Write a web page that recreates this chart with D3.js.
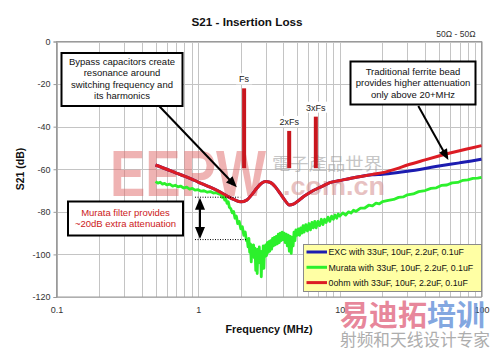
<!DOCTYPE html>
<html><head><meta charset="utf-8">
<script src="https://cdn.jsdelivr.net/npm/d3@7/dist/d3.min.js"></script>
<style>
body{margin:0;background:#fff;}
svg{display:block;font-family:"Liberation Sans",Arial,sans-serif;}
</style></head>
<body><svg id="c" width="494" height="350"></svg>
<script>
// ---------- data ----------
const xTickValues = [0.1, 1, 10, 100];
const xTickLabels = ["0.1", "1", "10", "100"];
const yTickValues = [0, -20, -40, -60, -80, -100, -120];
const yTickLabels = ["0", "-20", "-40", "-60", "-80", "-100", "-120"];

const seriesNames = ["EXC with 33uF, 10uF, 2.2uF, 0.1uF", "Murata with 33uF, 10uF, 2.2uF, 0.1uF", "0ohm with 33uF, 10uF, 2.2uF, 0.1uF"];

const redFreq = [0.5,0.6,0.7,0.8,0.9,1.0,1.2,1.4,1.6,1.8,2.0,2.2,2.4,2.6,2.8,3.0,3.2,3.5,3.8,4.1,4.4,4.7,5.0,5.5,6.0,6.5,7.5,8.5,10,12,14,17,20,25,30,40,50,60,70,85,100];
const redDb   = [-58,-60,-61.8,-63.2,-64.6,-66,-68.3,-70.4,-72.6,-74.3,-75.3,-74.5,-71.8,-68.8,-66.6,-65.8,-66.1,-68.2,-71.5,-74.6,-76.8,-76.4,-75.2,-73,-71.4,-70,-68,-66.3,-65.3,-64.2,-63.4,-62.4,-61.6,-59.8,-58.0,-55.6,-53.8,-52.4,-51.3,-50,-48.9];
const blueDb  = [-58,-60,-61.8,-63.2,-64.6,-66,-68.3,-70.4,-72.6,-74.3,-75.3,-74.5,-71.8,-68.8,-66.6,-65.8,-66.1,-68.2,-71.5,-74.6,-76.8,-76.4,-75.2,-73,-71.4,-70,-68,-66.3,-65.3,-64.2,-63.4,-62.6,-62.3,-61.6,-60.9,-59.6,-58.5,-57.7,-57.0,-56.1,-55.3];

const greenFreq = [0.5,0.52,0.54,0.56,0.58,0.6,0.63,0.66,0.69,0.72,0.75,0.79,0.83,0.87,0.91,0.95,1.0,1.05,1.1,1.16,1.22,1.28,1.34,1.4,
  1.45,1.48,1.51,1.54,1.57,1.6,1.63,1.66,1.7,1.74,1.78,1.82,1.86,1.9,1.95,2.0,2.05,2.1,2.15,2.19,
  2.22,2.25,2.28,2.31,2.34,2.37,2.4,2.43,2.46,2.49,2.52,2.55,2.58,2.61,2.64,2.67,2.7,2.73,2.76,2.79,2.82,2.85,2.88,2.91,2.94,2.97,3.0,
  3.04,3.08,3.12,3.16,3.2,3.25,3.3,3.35,3.4,3.45,3.5,3.56,3.62,3.68,3.74,3.8,3.86,3.92,3.98,4.05,4.12,4.19,4.26,4.33,4.4,4.47,4.54,4.61,4.68,4.75,4.82,4.9,5.0,
  5.1,5.2,5.3,5.4,5.5,5.6,5.75,5.9,6.05,6.2,6.35,6.5,6.65,6.8,7.0,7.2,7.4,7.6,7.8,8.0,8.25,8.5,8.75,9.0,9.25,9.5,9.75,10,
  10.5,11,11.5,12,12.5,13,14,15,16,17,18,19,20,22,24,26,28,30,33,36,40,44,48,52,57,62,68,74,80,87,94,100];
const greenDb = [-65.8,-66.5,-66.1,-67.0,-66.6,-67.3,-67.0,-67.9,-67.5,-68.3,-67.9,-68.8,-68.4,-69.3,-69.0,-69.8,-69.6,-70.3,-70.1,-70.8,-70.5,-71.2,-71.0,-71.6,
  -72.0,-73.2,-72.6,-74.5,-74.0,-76.0,-75.2,-77.8,-78.5,-80.5,-79.8,-83.0,-82.0,-85.5,-84.5,-88.0,-87.0,-91.0,-89.5,-93.5,
  -93.0,-96.5,-92.5,-99.0,-95.0,-103.5,-96.0,-100.0,-95.5,-101.5,-97.0,-107.5,-98.0,-109.0,-97.5,-102.0,-96.5,-104.0,-98.5,-110.5,-99.0,-103.5,-96.0,-106.5,-97.0,-101.0,-95.5,
  -100.5,-94.5,-99.0,-94.0,-98.5,-93.5,-97.5,-92.5,-96.0,-92.0,-95.5,-91.5,-95.0,-90.5,-94.5,-90.0,-93.5,-89.5,-93.0,-90.0,-94.5,-90.5,-96.0,-91.0,-98.5,-91.5,-99.5,-92.0,-96.0,-89.5,-93.5,-88.5,-91.0,
  -88.0,-91.0,-87.5,-90.0,-86.5,-89.5,-86.0,-89.0,-85.5,-88.5,-85.0,-87.5,-84.5,-87.5,-84.5,-86.5,-83.5,-86.0,-83.5,-85.0,-82.5,-84.5,-82.0,-83.5,-81.5,-83.0,-81.0,-82.0,
  -80.5,-81.5,-80.0,-80.6,-79.2,-79.8,-78.3,-78.2,-76.9,-77.2,-75.9,-76.3,-75.2,-74.6,-74.2,-73.2,-73.0,-72.0,-71.6,-70.5,-70.0,-69.0,-68.7,-67.6,-67.4,-66.4,-66.2,-65.2,-65.0,-64.3,-64.2,-63.8];

const spurLabels = ["Fs", "2xFs", "3xFs"];
const spurFreq = [2.11, 4.39, 6.77];
const spurTop = [-22, -42, -35.3];
const spurBottom = [-59.5, -59.5, -59.5];

// ---------- layout ----------
const svg = d3.select("#c");
const x = d3.scaleLog().domain([0.1, 100]).range([56.5, 481.5]);
const y = d3.scaleLinear().domain([0, -120]).range([41.5, 297]);
const FONT = '"Liberation Sans",Arial,sans-serif';

// grid
const gridX = [];
[0.1, 1, 10].forEach(d => { for (let k = 1; k <= 9; k++) gridX.push(d * k); });
gridX.push(100);
svg.append("g").selectAll("line").data(gridX).join("line")
  .attr("x1", d => Math.round(x(d)) + 0.5).attr("x2", d => Math.round(x(d)) + 0.5)
  .attr("y1", y(0)).attr("y2", y(-120)).attr("stroke", "#c4c4c4").attr("stroke-width", 1);
svg.append("g").selectAll("line").data(yTickValues).join("line")
  .attr("x1", x(0.1)).attr("x2", x(100))
  .attr("y1", d => Math.round(y(d)) + 0.5).attr("y2", d => Math.round(y(d)) + 0.5)
  .attr("stroke", "#c4c4c4").attr("stroke-width", 1);

// watermark (inside plot)
svg.append("text").attr("x", 110).attr("y", 196).text("EEPW")
  .attr("font-family", FONT).attr("font-weight", "bold").attr("font-size", 64)
  .attr("textLength", 156).attr("lengthAdjust", "spacingAndGlyphs")
  .attr("fill", "#e06a6a").attr("opacity", 0.5);
svg.append("text").attr("x", 272).attr("y", 170).text("電子產品世界")
  .attr("font-family", '"Noto Sans CJK TC"').attr("font-size", 17)
  .attr("textLength", 110).attr("lengthAdjust", "spacingAndGlyphs")
  .attr("fill", "#999").attr("opacity", 0.55);
svg.append("text").attr("x", 283).attr("y", 195).text(".com.cn")
  .attr("font-family", FONT).attr("font-weight", "bold").attr("font-size", 26)
  .attr("textLength", 102).attr("lengthAdjust", "spacingAndGlyphs")
  .attr("fill", "#d59090").attr("opacity", 0.55);

// frame
svg.append("rect").attr("x", x(0.1)).attr("y", y(0)).attr("width", x(100) - x(0.1)).attr("height", y(-120) - y(0))
  .attr("fill", "none").attr("stroke", "#9a9a9a").attr("stroke-width", 1);

// axes
const yAxis = d3.axisLeft(y).tickValues(yTickValues).tickFormat((d, i) => yTickLabels[i]).tickSize(3).tickPadding(3);
const gy = svg.append("g").attr("transform", `translate(${x(0.1)},0)`).call(yAxis);
gy.select(".domain").attr("stroke", "#9a9a9a");
gy.selectAll(".tick line").attr("stroke", "#9a9a9a");
gy.selectAll("text").attr("font-family", FONT).attr("font-size", 9).attr("fill", "#333");
const xAxis = d3.axisBottom(x).tickValues(xTickValues).tickFormat((d, i) => xTickLabels[i]).tickSize(0).tickPadding(10);
const gx = svg.append("g").attr("transform", `translate(0,${y(-120)})`).call(xAxis);
gx.select(".domain").remove();
gx.selectAll("text").attr("font-family", FONT).attr("font-size", 9).attr("fill", "#333");

// spur bars
const spurs = spurLabels.map((l, i) => ({l, f: spurFreq[i], t: spurTop[i], b: spurBottom[i]}));
svg.append("g").selectAll("rect").data(spurs).join("rect")
  .attr("x", d => x(d.f) - 2).attr("width", 4)
  .attr("y", d => y(d.t)).attr("height", d => y(d.b) - y(d.t))
  .attr("fill", "#c8161e");
const sl = svg.append("g").selectAll("g").data(spurs).join("g");
sl.append("rect").attr("x", d => x(d.f) - d.l.length * 3 - 2).attr("y", d => y(d.t) - 15)
  .attr("width", d => d.l.length * 6 + 4).attr("height", 11).attr("fill", "#fff");
sl.append("text").attr("x", d => x(d.f)).attr("y", d => y(d.t) - 6).attr("text-anchor", "middle")
  .attr("font-family", FONT).attr("font-size", 9).attr("fill", "#222").text(d => d.l);

// series
const toPts = (fs, vs) => fs.map((f, i) => [f, vs[i]]);
const smooth = d3.line().x(d => x(d[0])).y(d => y(d[1])).curve(d3.curveMonotoneX);
const rough = d3.line().x(d => x(d[0])).y(d => y(d[1]));
svg.append("path").attr("d", smooth(toPts(redFreq, blueDb))).attr("fill", "none")
  .attr("stroke", "#1c1cb0").attr("stroke-width", 3).attr("stroke-linejoin", "round");
svg.append("path").attr("d", rough(toPts(greenFreq, greenDb))).attr("fill", "none")
  .attr("stroke", "#2cf02c").attr("stroke-width", 2.8).attr("stroke-linejoin", "round");
svg.append("path").attr("d", smooth(toPts(redFreq, redDb))).attr("fill", "none")
  .attr("stroke", "#dc1c24").attr("stroke-width", 3).attr("stroke-linejoin", "round");

// dotted guides & double arrow
const guides = [{f0: 0.95, f1: 1.98, db: -72.9}, {f0: 0.95, f1: 2.22, db: -92.8}];
svg.append("g").selectAll("line").data(guides).join("line")
  .attr("x1", d => x(d.f0)).attr("x2", d => x(d.f1)).attr("y1", d => y(d.db) + 0.5).attr("y2", d => y(d.db) + 0.5)
  .attr("stroke", "#000").attr("stroke-width", 1).attr("stroke-dasharray", "1,1.5");

function arrowHead(g, x1, y1, x2, y2, len, w) {
  const a = Math.atan2(y2 - y1, x2 - x1);
  const bx = x2 - len * Math.cos(a), by = y2 - len * Math.sin(a);
  const px = -Math.sin(a) * w / 2, py = Math.cos(a) * w / 2;
  g.append("path").attr("d", `M${x2},${y2}L${bx + px},${by + py}L${bx - px},${by - py}Z`).attr("fill", "#000");
}
function arrow(x1, y1, x2, y2) {
  const g = svg.append("g");
  const a = Math.atan2(y2 - y1, x2 - x1);
  g.append("line").attr("x1", x1).attr("y1", y1).attr("x2", x2 - 8 * Math.cos(a)).attr("y2", y2 - 8 * Math.sin(a))
    .attr("stroke", "#000").attr("stroke-width", 2);
  arrowHead(g, x1, y1, x2, y2, 11, 9);
}
// double arrow
{
  const xa = x(1.03), ya = y(-72.9) + 1, yb = y(-92.8);
  const g = svg.append("g");
  g.append("line").attr("x1", xa).attr("x2", xa).attr("y1", ya + 8).attr("y2", yb - 8).attr("stroke", "#000").attr("stroke-width", 2);
  arrowHead(g, xa, yb, xa, ya, 12, 10);
  arrowHead(g, xa, ya, xa, yb, 12, 10);
}

// callout boxes
function box(x0, y0, w, h, lines, color, ly0) {
  const g = svg.append("g");
  g.append("rect").attr("x", x0).attr("y", y0).attr("width", w).attr("height", h)
    .attr("fill", "#fff").attr("stroke", "#000").attr("stroke-width", 2);
  lines.forEach((t, i) => g.append("text").attr("x", x0 + w / 2).attr("y", ly0 + i * 11.4)
    .attr("text-anchor", "middle").attr("font-family", FONT).attr("font-size", 9.5).attr("fill", color).text(t));
}
arrow(x(0.53), y(-30.3), x(1.875), y(-68.5));
arrow(x(35.8), y(-30.3), x(58.4), y(-55.7));
box(61.5, 53, 121, 53, ["Bypass capacitors create", "resonance around", "switching frequency and", "its harmonics"], "#111", 65);
box(350.5, 61.5, 125, 43, ["Traditional ferrite bead", "provides higher attenuation", "only above 20+MHz"], "#111", 75);
box(68, 201.5, 115, 34, ["Murata filter provides", "~20dB extra attenuation"], "#cc2020", 216);

// legend
const colors = ["#1c1cb0", "#2cf02c", "#dc1c24"];
const lg = svg.append("g");
lg.append("rect").attr("x", 303.5).attr("y", 244.5).attr("width", 178).attr("height", 47)
  .attr("fill", "#ffffa4").attr("stroke", "#8a8a8a").attr("stroke-width", 1);
seriesNames.forEach((n, i) => {
  const yy = 252 + i * 15.3;
  lg.append("line").attr("x1", 306.5).attr("x2", 327).attr("y1", yy).attr("y2", yy).attr("stroke", colors[i]).attr("stroke-width", 3);
  lg.append("text").attr("x", 328.5).attr("y", yy + 3.3).attr("font-family", FONT).attr("font-size", 8.8).attr("fill", "#111").text(n);
});

// titles
svg.append("text").attr("x", 247).attr("y", 25.7).attr("text-anchor", "middle").attr("font-family", FONT)
  .attr("font-weight", "bold").attr("font-size", 11.7).attr("fill", "#111").text("S21 - Insertion Loss");
svg.append("text").attr("x", 475.5).attr("y", 37.3).attr("text-anchor", "end").attr("font-family", FONT)
  .attr("font-size", 8.5).attr("fill", "#333").text("50Ω - 50Ω");
svg.append("text").attr("transform", "translate(23.5,169) rotate(-90)").attr("text-anchor", "middle").attr("font-family", FONT)
  .attr("font-weight", "bold").attr("font-size", 10.5).attr("fill", "#111").text("S21 (dB)");
svg.append("text").attr("x", 269).attr("y", 333).attr("text-anchor", "middle").attr("font-family", FONT)
  .attr("font-weight", "bold").attr("font-size", 10.8).attr("fill", "#111").text("Frequency (MHz)");

// watermark (bottom right)
const wm = svg.append("text").attr("x", 340).attr("y", 326).attr("font-family", '"Noto Sans CJK SC"').attr("font-weight", "bold").attr("font-size", 29);
wm.append("tspan").attr("fill", "#e0607a").attr("fill-opacity", 0.75).text("易迪拓");
wm.append("tspan").attr("fill", "#5a8ad6").attr("fill-opacity", 0.75).text("培训");
svg.append("text").attr("x", 340).attr("y", 346).attr("font-family", '"Noto Sans CJK SC"').attr("font-size", 16.5)
  .attr("textLength", 150).attr("lengthAdjust", "spacingAndGlyphs").attr("fill", "#999").attr("opacity", 0.8).text("射频和天线设计专家");
</script></body></html>
